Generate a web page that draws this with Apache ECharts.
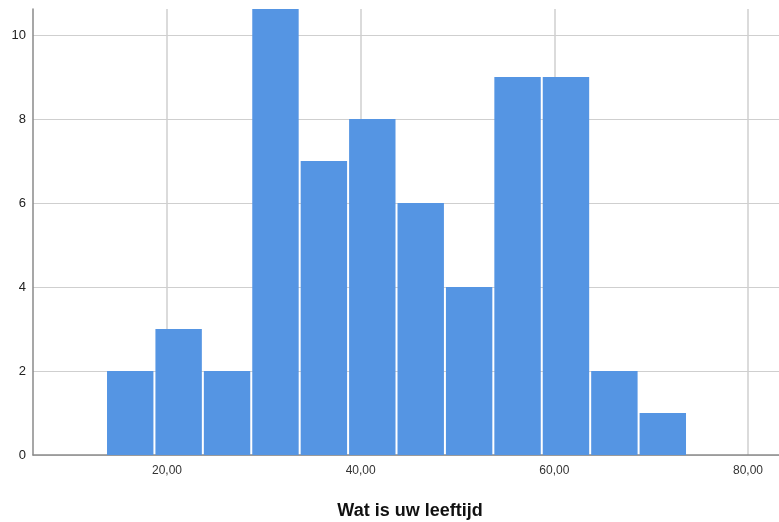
<!DOCTYPE html>
<html>
<head>
<meta charset="utf-8">
<script src="https://cdn.jsdelivr.net/npm/echarts@6/dist/echarts.min.js"></script>
<style>html,body{margin:0;padding:0;background:#fff}#c{width:779px;height:522px}</style>
</head>
<body>
<div id="c"></div>
<script>
var binStarts = [13.7, 18.7, 23.7, 28.7, 33.7, 38.7, 43.7, 48.7, 53.7, 58.7, 63.7, 68.7];
var binWidth = 5;
var counts = [2, 3, 2, 11, 7, 8, 6, 4, 9, 9, 2, 1];
var xTicks = [20, 40, 60, 80];
var yTicks = [0, 2, 4, 6, 8, 10];
var xTitle = 'Wat is uw leeftijd';

var data = binStarts.map(function (s, i) { return [s, s + binWidth, counts[i]]; });

var chart = echarts.init(document.getElementById('c'), null, {renderer: 'canvas'});
chart.setOption({
  animation: false,
  grid: {left: 33, right: 0, top: 9, bottom: 67, containLabel: false, outerBoundsMode: 'none'},
  xAxis: {
    type: 'value', min: 6.16, max: 83.2,
    name: xTitle, nameLocation: 'middle', nameGap: 47,
    nameTextStyle: {fontFamily: 'Liberation Sans', fontSize: 18, fontWeight: 'bold', color: '#111',
      padding: [0, 0, 0, 8]},
    axisLine: {show: true, lineStyle: {color: '#8a8a8a', width: 1.5}},
    axisTick: {show: false, customValues: xTicks},
    axisLabel: {customValues: xTicks, fontFamily: 'Liberation Sans', fontSize: 12, color: '#333', margin: 10,
      formatter: function (v) { return v.toFixed(2).replace('.', ','); }},
    splitLine: {show: true, lineStyle: {color: '#cfcfcf', width: 1.5}}
  },
  yAxis: {
    type: 'value', min: 0, max: 10.62,
    axisLine: {show: true, lineStyle: {color: '#8a8a8a', width: 1.5}},
    axisTick: {show: false, customValues: yTicks},
    axisLabel: {customValues: yTicks, fontFamily: 'Liberation Sans', fontSize: 13, color: '#222', margin: 7,
      padding: [8, 0, 0, 0]},
    splitLine: {show: true, lineStyle: {color: '#cfcfcf', width: 1.2}}
  },
  series: [{
    type: 'custom',
    clip: true,
    data: data,
    encode: {x: [0, 1], y: 2},
    renderItem: function (params, api) {
      var p0 = api.coord([api.value(0), api.value(2)]);
      var p1 = api.coord([api.value(1), 0]);
      var shape = {x: p0[0] + 1, y: p0[1], width: p1[0] - p0[0] - 2, height: p1[1] - p0[1]};
      return {
        type: 'rect',
        shape: echarts.graphic.clipRectByRect(shape, params.coordSys),
        style: {fill: '#5595e3'}
      };
    }
  }]
});
</script>
</body>
</html>
